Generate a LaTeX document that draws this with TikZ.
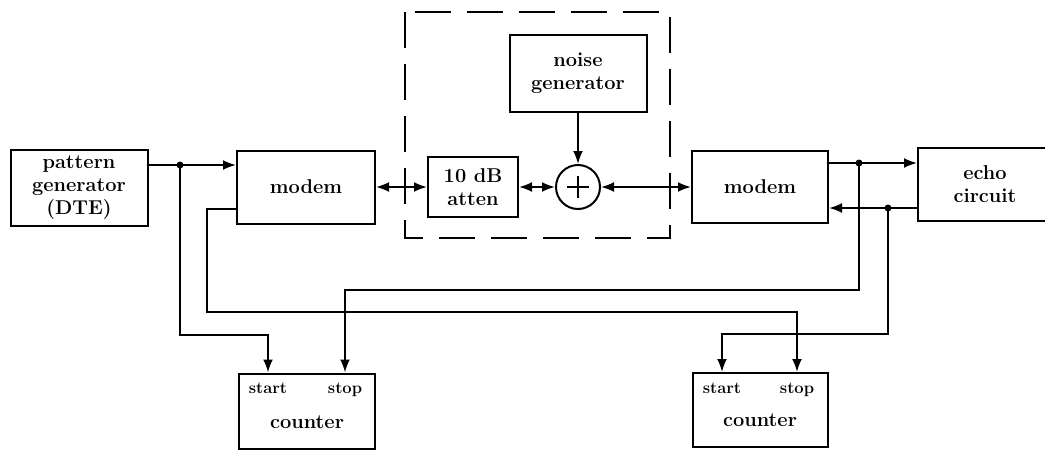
\documentclass[tikz,border=0pt]{standalone}
\usepackage{fontspec}
\usetikzlibrary{arrows.meta}
\begin{document}
\begin{tikzpicture}[x=1pt,y=-1pt,
  font=\fontsize{20}{23}\selectfont\bfseries,
  blk/.style={draw,line width=2pt,align=center,inner sep=0pt},
  lbl/.style={font=\fontsize{16.5}{18}\selectfont\bfseries,inner sep=0pt,text height=11pt,text depth=3pt},
  ln/.style={line width=2pt},
  ar/.style={ln,-{Latex[length=13pt,width=10pt]}},
  dar/.style={ln,{Latex[length=13pt,width=10pt]}-{Latex[length=13pt,width=10pt]}},
  jdot/.style={circle,fill,inner sep=0pt,minimum size=7pt},
  dashbox/.style={line width=2pt,dash pattern=on 36pt off 16pt}]

\useasboundingbox (0,0) rectangle (1045,450);
\clip (0,0) rectangle (1045,450);

\node[blk,minimum width=137pt,minimum height=76pt] (pat)   at (79,188)  {pattern\\generator\\(DTE)};
\node[blk,minimum width=138pt,minimum height=73pt] (modA)  at (306,187) {modem};
\node[blk,minimum width=90pt,minimum height=60pt]  (att)   at (473,187) {10 dB\\atten};
\node[draw,circle,ln,minimum size=44pt,inner sep=0pt] (sum) at (578,187) {};
\node[blk,minimum width=137pt,minimum height=77pt] (noise) at (578,73)  {noise\\generator};
\node[blk,minimum width=136pt,minimum height=72pt] (modB)  at (760,187) {modem};
\node[blk,minimum width=134pt,minimum height=73pt] (echo)  at (985,184) {echo\\circuit};

% counters with their inputs
\node[blk,minimum width=136pt,minimum height=75pt] (cntA) at (307,411) {};
\node[blk,minimum width=135pt,minimum height=74pt] (cntB) at (760,410) {};
\node (cntAtxt) at ([yshift=-11pt]cntA.center) {counter};
\node (cntBtxt) at ([yshift=-10pt]cntB.center) {counter};
\node[lbl] (startA) at (268,389) {start};
\node[lbl] (stopA)  at (345,389) {stop};
\node[lbl] (startB) at (722,389) {start};
\node[lbl] (stopB)  at (797,389) {stop};

% summing point
\draw[ln] ([xshift=-11pt]sum.center) -- ([xshift=11pt]sum.center);
\draw[ln] ([yshift=-11pt]sum.center) -- ([yshift=11pt]sum.center);

% channel simulator
\draw[dashbox] (405,12) rectangle (670,238);

\coordinate (j1) at (180,165);
\coordinate (j2) at (859,163);
\coordinate (j3) at (888,208);

\draw[ar] (j1 -| pat.east) -- (j1 -| modA.west);
\draw[dar] (modA) -- (att);
\draw[dar] (att) -- (sum);
\draw[dar] (sum) -- (modB);
\draw[ar] (noise) -- (sum);
\draw[ar] (j2 -| modB.east) -- (j2 -| echo.west);
\draw[ar] (j3 -| echo.west) -- (j3 -| modB.east);

% taps to the counters
\draw[ar] (j1) -- ++(0,170) -| (startA |- cntA.north);
\draw[ar] ([yshift=-22pt]modA.west) -- ++(-29,0) -- ++(0,103) -| (stopB |- cntB.north);
\draw[ar] (j2) -- ++(0,127) -| (stopA |- cntA.north);
\draw[ar] (j3) -- ++(0,126) -| (startB |- cntB.north);

\node[jdot] (d1) at (j1) {};
\node[jdot] (d2) at (j2) {};
\node[jdot] (d3) at (j3) {};
\end{tikzpicture}
\end{document}
